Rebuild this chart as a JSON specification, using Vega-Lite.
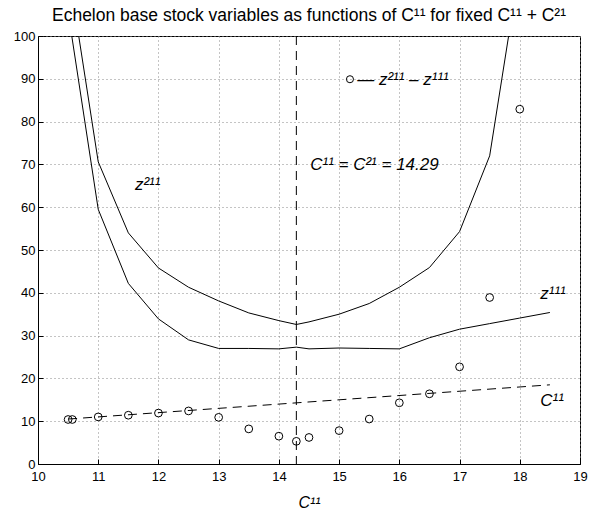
{
  "$schema": "https://vega.github.io/schema/vega-lite/v6.json",
  "width": 542,
  "height": 428,
  "autosize": {"type": "none"},
  "padding": {"left": 38, "top": 36, "right": 9, "bottom": 53},
  "title": {
    "text": "Echelon base stock variables as functions of C¹¹ for fixed C¹¹ + C²¹",
    "font": "Liberation Sans",
    "fontSize": 17.5,
    "fontWeight": "normal",
    "color": "#000000",
    "anchor": "middle",
    "offset": 6
  },
  "config": {
    "view": {"stroke": "#000000", "strokeWidth": 1},
    "font": "Liberation Sans",
    "axis": {
      "domainColor": "#000000",
      "tickColor": "#000000",
      "labelColor": "#000000",
      "labelFont": "Liberation Sans",
      "labelFontSize": 13,
      "gridColor": "#888888",
      "gridDash": [1, 3],
      "gridWidth": 1,
      "gridOpacity": 1,
      "tickSize": -5,
      "titleColor": "#000000"
    }
  },
  "datasets": {
    "curves": [
      {"x": 10.5, "s": "z111", "y": 105.6},
      {"x": 11, "s": "z111", "y": 59.5},
      {"x": 11.5, "s": "z111", "y": 42.2},
      {"x": 12, "s": "z111", "y": 33.9},
      {"x": 12.5, "s": "z111", "y": 29.0},
      {"x": 13, "s": "z111", "y": 27.0},
      {"x": 13.5, "s": "z111", "y": 27.0},
      {"x": 14, "s": "z111", "y": 26.9},
      {"x": 14.29, "s": "z111", "y": 27.3},
      {"x": 14.5, "s": "z111", "y": 26.9},
      {"x": 15, "s": "z111", "y": 27.1},
      {"x": 15.5, "s": "z111", "y": 27.0},
      {"x": 16, "s": "z111", "y": 26.9},
      {"x": 16.5, "s": "z111", "y": 29.5},
      {"x": 17, "s": "z111", "y": 31.5},
      {"x": 17.5, "s": "z111", "y": 32.8},
      {"x": 18, "s": "z111", "y": 34.1},
      {"x": 18.5, "s": "z111", "y": 35.4},
      {"x": 10.5, "s": "z211", "y": 116},
      {"x": 11, "s": "z211", "y": 70.6},
      {"x": 11.5, "s": "z211", "y": 54.0},
      {"x": 12, "s": "z211", "y": 45.8},
      {"x": 12.5, "s": "z211", "y": 41.3},
      {"x": 13, "s": "z211", "y": 38.1},
      {"x": 13.5, "s": "z211", "y": 35.3},
      {"x": 14, "s": "z211", "y": 33.5},
      {"x": 14.29, "s": "z211", "y": 32.6},
      {"x": 14.5, "s": "z211", "y": 33.2},
      {"x": 15, "s": "z211", "y": 35.0},
      {"x": 15.5, "s": "z211", "y": 37.5},
      {"x": 16, "s": "z211", "y": 41.3},
      {"x": 16.5, "s": "z211", "y": 45.9},
      {"x": 17, "s": "z211", "y": 54.3},
      {"x": 17.5, "s": "z211", "y": 72.0},
      {"x": 18, "s": "z211", "y": 116.5}
    ],
    "diff": [
      {"x": 10.5, "y": 10.4},
      {"x": 10.57, "y": 10.4},
      {"x": 11, "y": 11.0},
      {"x": 11.5, "y": 11.4},
      {"x": 12, "y": 11.9},
      {"x": 12.5, "y": 12.4},
      {"x": 13, "y": 10.9},
      {"x": 13.5, "y": 8.2},
      {"x": 14, "y": 6.5},
      {"x": 14.29, "y": 5.3},
      {"x": 14.5, "y": 6.2},
      {"x": 15, "y": 7.8},
      {"x": 15.5, "y": 10.5},
      {"x": 16, "y": 14.3},
      {"x": 16.5, "y": 16.4},
      {"x": 17, "y": 22.7},
      {"x": 17.5, "y": 38.9},
      {"x": 18, "y": 82.9}
    ],
    "c11": [
      {"x": 10.5, "y": 10.5},
      {"x": 18.5, "y": 18.5}
    ],
    "labels": [
      {"x": 11.61, "y": 64.0, "label": "z²¹¹"},
      {"x": 18.34, "y": 38.5, "label": "z¹¹¹"},
      {"x": 18.34, "y": 13.6, "label": "C¹¹"},
      {"x": 14.52, "y": 68.7, "label": "C¹¹ = C²¹ = 14.29"},
      {"x": 15.3, "y": 88.6, "label": "— z²¹¹ – z¹¹¹"}
    ],
    "legendpt": [
      {"x": 15.18, "y": 89.9}
    ],
    "vline": [
      {"x": 14.29}
    ]
  },
  "layer": [
    {
      "data": {"name": "curves"},
      "mark": {"type": "line", "color": "#000000", "strokeWidth": 1, "clip": true},
      "encoding": {
        "x": {
          "field": "x", "type": "quantitative",
          "scale": {"domain": [10, 19], "nice": false, "zero": false},
          "axis": {"values": [10, 11, 12, 13, 14, 15, 16, 17, 18, 19], "format": "d", "grid": true, "title": "C¹¹", "titleFont": "Liberation Sans", "titleFontStyle": "italic", "titleFontWeight": "normal", "titleFontSize": 16, "titlePadding": 11, "labelPadding": 11, "labelFlush": false}
        },
        "y": {
          "field": "y", "type": "quantitative",
          "scale": {"domain": [0, 100], "nice": false},
          "axis": {"values": [0, 10, 20, 30, 40, 50, 60, 70, 80, 90, 100], "format": "d", "grid": true, "title": null, "labelPadding": 8, "labelFlush": false}
        },
        "detail": {"field": "s"}
      }
    },
    {
      "data": {"name": "c11"},
      "mark": {"type": "line", "color": "#000000", "strokeWidth": 1, "strokeDash": [9, 6]},
      "encoding": {
        "x": {"field": "x", "type": "quantitative"},
        "y": {"field": "y", "type": "quantitative"}
      }
    },
    {
      "data": {"name": "vline"},
      "mark": {"type": "rule", "color": "#000000", "strokeWidth": 1, "strokeDash": [9, 6]},
      "encoding": {
        "x": {"field": "x", "type": "quantitative"}
      }
    },
    {
      "data": {"name": "diff"},
      "mark": {"type": "point", "shape": "circle", "filled": false, "color": "#000000", "strokeWidth": 1, "size": 60, "opacity": 1},
      "encoding": {
        "x": {"field": "x", "type": "quantitative"},
        "y": {"field": "y", "type": "quantitative"}
      }
    },
    {
      "data": {"name": "legendpt"},
      "mark": {"type": "point", "shape": "circle", "filled": false, "color": "#000000", "strokeWidth": 1, "size": 50, "opacity": 1},
      "encoding": {
        "x": {"field": "x", "type": "quantitative"},
        "y": {"field": "y", "type": "quantitative"}
      }
    },
    {
      "data": {"name": "labels"},
      "mark": {"type": "text", "align": "left", "baseline": "alphabetic", "font": "Liberation Sans", "fontStyle": "italic", "fontSize": 17, "color": "#000000"},
      "encoding": {
        "x": {"field": "x", "type": "quantitative"},
        "y": {"field": "y", "type": "quantitative"},
        "text": {"field": "label"}
      }
    }
  ]
}
